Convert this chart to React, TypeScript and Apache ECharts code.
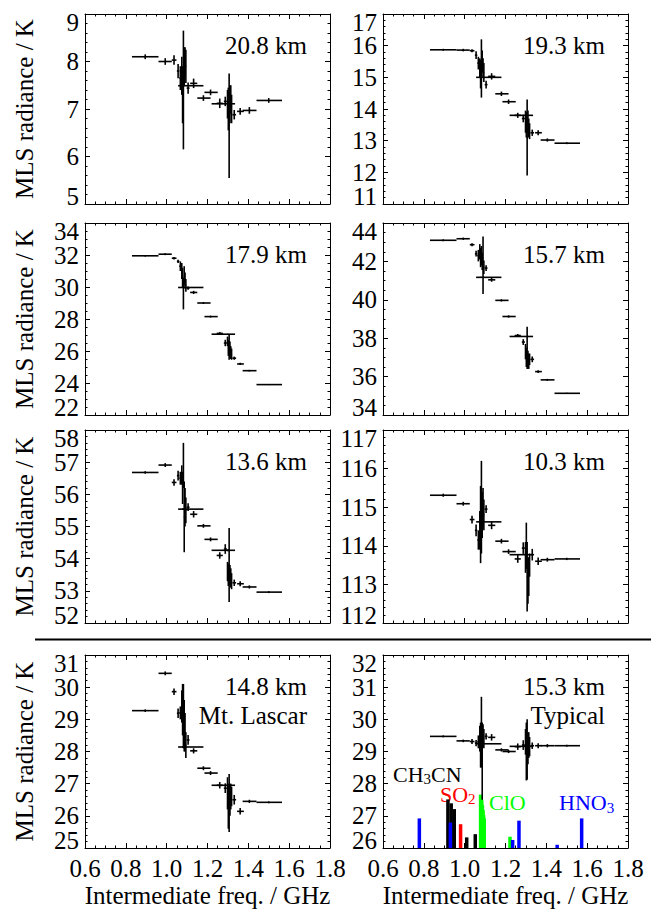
import React, { useEffect, useRef } from 'react';
import * as echarts from 'echarts';

const FONT = 'Liberation Serif';

// Channel frequencies (GHz): lower edge, upper edge, centre
const chanLo = [0.83, 0.96, 1.025, 1.05, 1.062, 1.072, 1.076, 1.080, 1.084, 1.088, 1.092, 1.098, 1.115, 1.056, 1.15, 1.185, 1.245, 1.28, 1.296, 1.300, 1.304, 1.308, 1.312, 1.316, 1.322, 1.345, 1.372, 1.44, 1.22];
const chanHi = [0.96, 1.025, 1.048, 1.062, 1.072, 1.076, 1.080, 1.084, 1.088, 1.092, 1.096, 1.112, 1.15, 1.18, 1.215, 1.25, 1.275, 1.295, 1.300, 1.304, 1.308, 1.312, 1.316, 1.320, 1.34, 1.378, 1.44, 1.565, 1.335];
const chanCenter = [0.895, 0.993, 1.036, 1.056, 1.067, 1.074, 1.078, 1.082, 1.086, 1.090, 1.094, 1.105, 1.132, 1.08, 1.18, 1.215, 1.26, 1.287, 1.298, 1.302, 1.306, 1.310, 1.314, 1.318, 1.331, 1.36, 1.405, 1.50, 1.30];

// Radiances (K) and errors per panel
const rad208 = [8.10, 8.00, 8.03, 7.80, 7.65, 7.7, 7.3, 7.4, 7.9, 8.0, 7.9, 7.44, 7.54, 7.49, 7.23, 7.35, 7.12, 7.16, 7.1, 7.0, 6.65, 7.1, 7.2, 7.0, 6.88, 6.95, 6.97, 7.18, 7.11];
const err208 = [0.05, 0.07, 0.1, 0.15, 0.25, 0.4, 0.6, 1.25, 0.4, 0.3, 0.35, 0.12, 0.1, 0.02, 0.06, 0.06, 0.1, 0.1, 0.3, 0.45, 1.1, 0.4, 0.3, 0.3, 0.1, 0.07, 0.07, 0.05, 0.02];
const rad193 = [15.87, 15.86, 15.84, 15.70, 15.45, 15.3, 15.1, 15.28, 15.5, 15.3, 15.15, 14.77, 15.03, 15.0, 14.48, 14.23, 13.8, 13.7, 13.6, 13.5, 13.1, 13.6, 13.4, 13.3, 13.25, 13.25, 13.02, 12.92, 13.8];
const err193 = [0.03, 0.04, 0.05, 0.12, 0.2, 0.3, 0.45, 0.92, 0.35, 0.3, 0.3, 0.12, 0.1, 0.02, 0.07, 0.07, 0.08, 0.12, 0.35, 0.4, 1.2, 0.35, 0.3, 0.25, 0.1, 0.08, 0.05, 0.03, 0.02];
const rad179 = [31.95, 32.05, 31.8, 31.6, 31.3, 31.0, 30.6, 29.6, 30.7, 30.4, 30.1, 29.93, 29.66, 29.97, 29.0, 28.15, 27.1, 26.5, 26.6, 26.2, 26.25, 26.1, 25.9, 25.8, 25.55, 25.19, 24.77, 23.9, 27.05];
const err179 = [0.05, 0.06, 0.08, 0.1, 0.3, 0.5, 0.6, 1.0, 0.6, 0.5, 0.4, 0.1, 0.1, 0.03, 0.06, 0.06, 0.08, 0.2, 0.3, 0.5, 0.8, 0.5, 0.4, 0.35, 0.1, 0.07, 0.05, 0.03, 0.03];
const rad157 = [43.1, 43.18, 42.87, 42.4, 42.3, 42.5, 42.2, 42.3, 42.0, 41.8, 41.7, 41.65, 41.04, 41.17, 39.97, 39.13, 38.14, 37.8, 37.3, 37.0, 37.5, 36.9, 36.8, 36.9, 36.9, 36.26, 35.83, 35.13, 38.09];
const err157 = [0.05, 0.06, 0.08, 0.15, 0.3, 0.4, 0.5, 0.5, 0.45, 1.5, 0.35, 0.15, 0.1, 0.03, 0.06, 0.06, 0.08, 0.15, 0.4, 0.5, 1.1, 0.45, 0.4, 0.3, 0.15, 0.07, 0.05, 0.03, 0.03];
const rad136 = [56.68, 56.91, 56.37, 56.58, 56.5, 56.6, 56.2, 56.9, 55.3, 55.6, 55.5, 55.6, 55.38, 55.54, 55.02, 54.6, 54.1, 54.3, 53.6, 53.5, 53.8, 53.5, 53.4, 53.3, 53.25, 53.22, 53.12, 52.96, 54.26];
const err136 = [0.04, 0.06, 0.1, 0.15, 0.2, 0.3, 0.5, 0.7, 1.1, 0.6, 0.4, 0.12, 0.1, 0.03, 0.06, 0.06, 0.1, 0.15, 0.3, 0.35, 1.15, 0.3, 0.3, 0.25, 0.1, 0.08, 0.05, 0.03, 0.03];
const rad103 = [115.31, 115.09, 114.68, 114.4, 114.15, 114.4, 114.55, 115.0, 114.8, 115.0, 114.8, 114.95, 114.53, 114.62, 114.12, 113.85, 113.66, 113.94, 113.7, 114.0, 113.2, 113.1, 113.2, 113.5, 113.77, 113.6, 113.64, 113.66, 113.77];
const err103 = [0.04, 0.05, 0.1, 0.15, 0.25, 0.5, 1.0, 1.2, 0.6, 0.5, 0.4, 0.1, 0.1, 0.03, 0.06, 0.06, 0.1, 0.15, 0.4, 0.6, 0.9, 0.6, 0.5, 0.3, 0.15, 0.1, 0.05, 0.03, 0.03];
const rad148 = [29.27, 30.43, 29.86, 29.19, 29.2, 29.4, 29.3, 29.1, 28.8, 28.6, 28.2, 28.36, 28.02, 28.14, 27.48, 27.33, 26.95, 26.86, 26.7, 26.3, 26.4, 26.5, 26.6, 26.6, 26.5, 26.14, 26.45, 26.42, 26.95];
const err148 = [0.04, 0.06, 0.1, 0.15, 0.2, 0.5, 0.8, 1.0, 0.8, 0.6, 0.4, 0.15, 0.08, 0.03, 0.06, 0.06, 0.1, 0.15, 0.5, 0.7, 0.9, 0.5, 0.4, 0.3, 0.15, 0.1, 0.05, 0.03, 0.03];
const rad153 = [29.47, 29.33, 29.31, 29.26, 29.3, 29.4, 29.2, 29.6, 28.7, 29.5, 29.4, 29.47, 29.44, 29.24, 29.05, 29.0, 29.15, 29.2, 29.3, 29.0, 29.06, 29.1, 29.2, 29.15, 29.18, 29.18, 29.18, 29.18, 29.16];
const err153 = [0.03, 0.04, 0.08, 0.1, 0.2, 0.4, 0.7, 1.1, 1.2, 0.35, 0.3, 0.1, 0.1, 0.02, 0.05, 0.05, 0.1, 0.15, 0.4, 0.9, 0.94, 0.5, 0.4, 0.3, 0.1, 0.08, 0.05, 0.03, 0.02];

const panelRad = [rad208, rad193, rad179, rad157, rad136, rad103, rad148, rad153];
const panelErr = [err208, err193, err179, err157, err136, err103, err148, err153];
const panelTitles = ['20.8 km', '19.3 km', '17.9 km', '15.7 km', '13.6 km', '10.3 km', '14.8 km', '15.3 km'];
const panelSubtitles = ['', '', '', '', '', '', 'Mt. Lascar', 'Typical'];
const yMin = [5, 11, 22, 34, 52, 112, 25, 26];
const yMax = [9, 17, 34, 44, 58, 117, 31, 32];
const yStep = [1, 1, 2, 2, 1, 1, 1, 1];

// Spectral line contributions (bottom-right panel)
const ch3cnFreq = [0.918, 0.934, 0.949, 1.010, 1.052];
const ch3cnPeak = [27.51, 27.39, 27.21, 26.33, 26.43];
const so2Freq = [0.980];
const so2Peak = [26.74];
const cloFreq = [1.078, 1.081, 1.084, 1.087, 1.090, 1.093, 1.096, 1.222];
const cloPeak = [27.66, 27.62, 27.48, 27.33, 27.18, 27.02, 26.92, 26.35];
const hno3Freq = [0.778, 0.930, 1.235, 1.266, 1.453, 1.573];
const hno3Peak = [26.92, 26.79, 26.25, 26.85, 26.1, 26.92];

const GRID_LEFT = [85, 383];
const GRID_W = 245;
const ROW_TOP = [14, 223, 430, 655];
const ROW_H = [190, 192, 193, 193];

function errRender(params: any, api: any) {
  const lo = api.coord([api.value(0), api.value(3)]);
  const hi = api.coord([api.value(1), api.value(3)]);
  const t = api.coord([api.value(2), api.value(3) + api.value(4)]);
  const b = api.coord([api.value(2), api.value(3) - api.value(4)]);
  const st = { stroke: '#000', lineWidth: 1.6 };
  return {
    type: 'group',
    children: [
      { type: 'line', shape: { x1: lo[0], y1: lo[1], x2: hi[0], y2: hi[1] }, style: st },
      { type: 'line', shape: { x1: t[0], y1: t[1], x2: b[0], y2: b[1] }, style: st },
    ],
  };
}

function barRender(color: string, base: number) {
  return (params: any, api: any) => {
    const p = api.coord([api.value(0), api.value(1)]);
    const b = api.coord([api.value(0), base]);
    const w = 3.5;
    return { type: 'rect', shape: { x: p[0] - w / 2, y: p[1], width: w, height: b[1] - p[1] }, style: { fill: color } };
  };
}

export default function App() {
  const ref = useRef<HTMLDivElement>(null);
  useEffect(() => {
    if (!ref.current) return;
    const chart = echarts.init(ref.current, null, { renderer: 'svg' });
    const grids: any[] = [];
    const xAxes: any[] = [];
    const yAxes: any[] = [];
    const series: any[] = [];
    const graphic: any[] = [];
    const tickStyle = { color: '#000', width: 1 };
    const txt = (text: string, x: number, y: number, align: string, extra: any = {}) => ({
      type: 'text', x, y, ...extra,
      style: { text, font: `25px ${FONT}`, fill: '#000', textAlign: align, textVerticalAlign: 'middle' },
    });

    for (let i = 0; i < 8; i++) {
      const col = i % 2;
      const row = Math.floor(i / 2);
      const left = GRID_LEFT[col];
      const top = ROW_TOP[row];
      const h = ROW_H[row];
      grids.push({ left, top, width: GRID_W, height: h, containLabel: false });
      const isBottom = row === 3;
      const xBase = {
        gridIndex: i, type: 'value', min: 0.6, max: 1.8, interval: 0.2,
        axisLine: { show: true, onZero: false, lineStyle: tickStyle },
        axisTick: { show: true, inside: true, length: 5, lineStyle: tickStyle },
        minorTick: { show: true, splitNumber: 4, length: 2.5, lineStyle: tickStyle },
        splitLine: { show: false },
      };
      xAxes.push({
        ...xBase, position: 'bottom',
        axisLabel: {
          show: isBottom, color: '#000', fontSize: 25, fontFamily: FONT, margin: 8,
          formatter: (v: number) => v.toFixed(1),
        },
      });
      xAxes.push({ ...xBase, position: 'top', axisLabel: { show: false } });
      const mn = yMin[i];
      const mx = yMax[i];
      const yBase = {
        gridIndex: i, type: 'value', min: mn, max: mx, interval: yStep[i],
        axisLine: { show: true, onZero: false, lineStyle: tickStyle },
        axisTick: { show: true, inside: true, length: 5, lineStyle: tickStyle },
        minorTick: { show: true, splitNumber: yStep[i] === 2 ? 4 : 5, length: 2.5, lineStyle: tickStyle },
        splitLine: { show: false },
      };
      // main left axis: interior labels
      yAxes.push({
        ...yBase, position: 'left',
        axisLabel: {
          show: true, color: '#000', fontSize: 25, fontFamily: FONT, margin: 6, lineHeight: 18,
          showMinLabel: false, showMaxLabel: false,
        },
      });
      yAxes.push({ ...yBase, position: 'right', axisLabel: { show: false } });
      // extra left axis: end labels, pulled inside the frame
      yAxes.push({
        gridIndex: i, type: 'value', min: mn, max: mx, interval: yStep[i], position: 'left',
        axisLine: { show: false }, axisTick: { show: false }, splitLine: { show: false },
        axisLabel: {
          show: true, color: '#000', fontSize: 25, fontFamily: FONT, margin: 6, lineHeight: 16,
          showMinLabel: true, showMaxLabel: true,
          verticalAlignMinLabel: 'bottom', verticalAlignMaxLabel: 'top',
          formatter: (v: number) => (v === mn || v === mx ? String(v) : ''),
        },
      });

      const rad = panelRad[i];
      const err = panelErr[i];
      const data = chanLo.map((lo, k) => [lo, chanHi[k], chanCenter[k], rad[k], err[k]]);

      if (i === 7) {
        const groups: [number[], number[], string][] = [
          [ch3cnFreq, ch3cnPeak, '#000000'],
          [so2Freq, so2Peak, '#ff0000'],
          [cloFreq, cloPeak, '#00ff00'],
          [hno3Freq, hno3Peak, '#0000ff'],
        ];
        groups.forEach(([f, p, c]) => {
          series.push({
            type: 'custom', xAxisIndex: 2 * i, yAxisIndex: 3 * i, clip: true,
            renderItem: barRender(c, mn),
            data: f.map((x, k) => [x, p[k]]),
            silent: true,
          });
        });
      }

      series.push({
        type: 'custom', xAxisIndex: 2 * i, yAxisIndex: 3 * i, clip: true,
        renderItem: errRender, data, silent: true,
        encode: { x: [0, 1, 2], y: [3] },
      });

      const right = left + GRID_W - 23;
      graphic.push(txt(panelTitles[i], right, top + 31.5, 'right'));
      if (panelSubtitles[i]) graphic.push(txt(panelSubtitles[i], right, top + 60.5, 'right'));
      if (col === 0) graphic.push(txt('MLS radiance / K', 24, top + h / 2, 'center', { rotation: Math.PI / 2 }));
      if (isBottom) graphic.push(txt('Intermediate freq. / GHz', left + GRID_W / 2, 895, 'center'));
    }

    graphic.push({
      type: 'line', shape: { x1: 35, y1: 639.5, x2: 651, y2: 639.5 }, style: { stroke: '#000', lineWidth: 2 },
    });

    const mol = (text: string, x: number, y: number, color: string) => ({
      type: 'text', x, y,
      style: {
        text, fill: color, textAlign: 'left', textVerticalAlign: 'middle',
        rich: {
          n: { fontSize: 22, fontFamily: FONT, fill: color, lineHeight: 18 },
          s: { fontSize: 15, fontFamily: FONT, fill: color, lineHeight: 10, padding: [10, 0, 0, 0] },
        },
      },
    });
    graphic.push(mol('{n|CH}{s|3}{n|CN}', 393, 774, '#000000'));
    graphic.push(mol('{n|SO}{s|2}', 440, 794, '#ff0000'));
    graphic.push(mol('{n|ClO}', 489, 802.5, '#00ff00'));
    graphic.push(mol('{n|HNO}{s|3}', 559, 802.5, '#0000ff'));

    chart.setOption({
      animation: false,
      backgroundColor: '#ffffff',
      grid: grids,
      xAxis: xAxes,
      yAxis: yAxes,
      series,
      graphic,
    });
    return () => chart.dispose();
  }, []);
  return <div ref={ref} style={{ position: 'fixed', left: 0, top: 0, width: 657, height: 912, background: '#fff' }} />;
}
